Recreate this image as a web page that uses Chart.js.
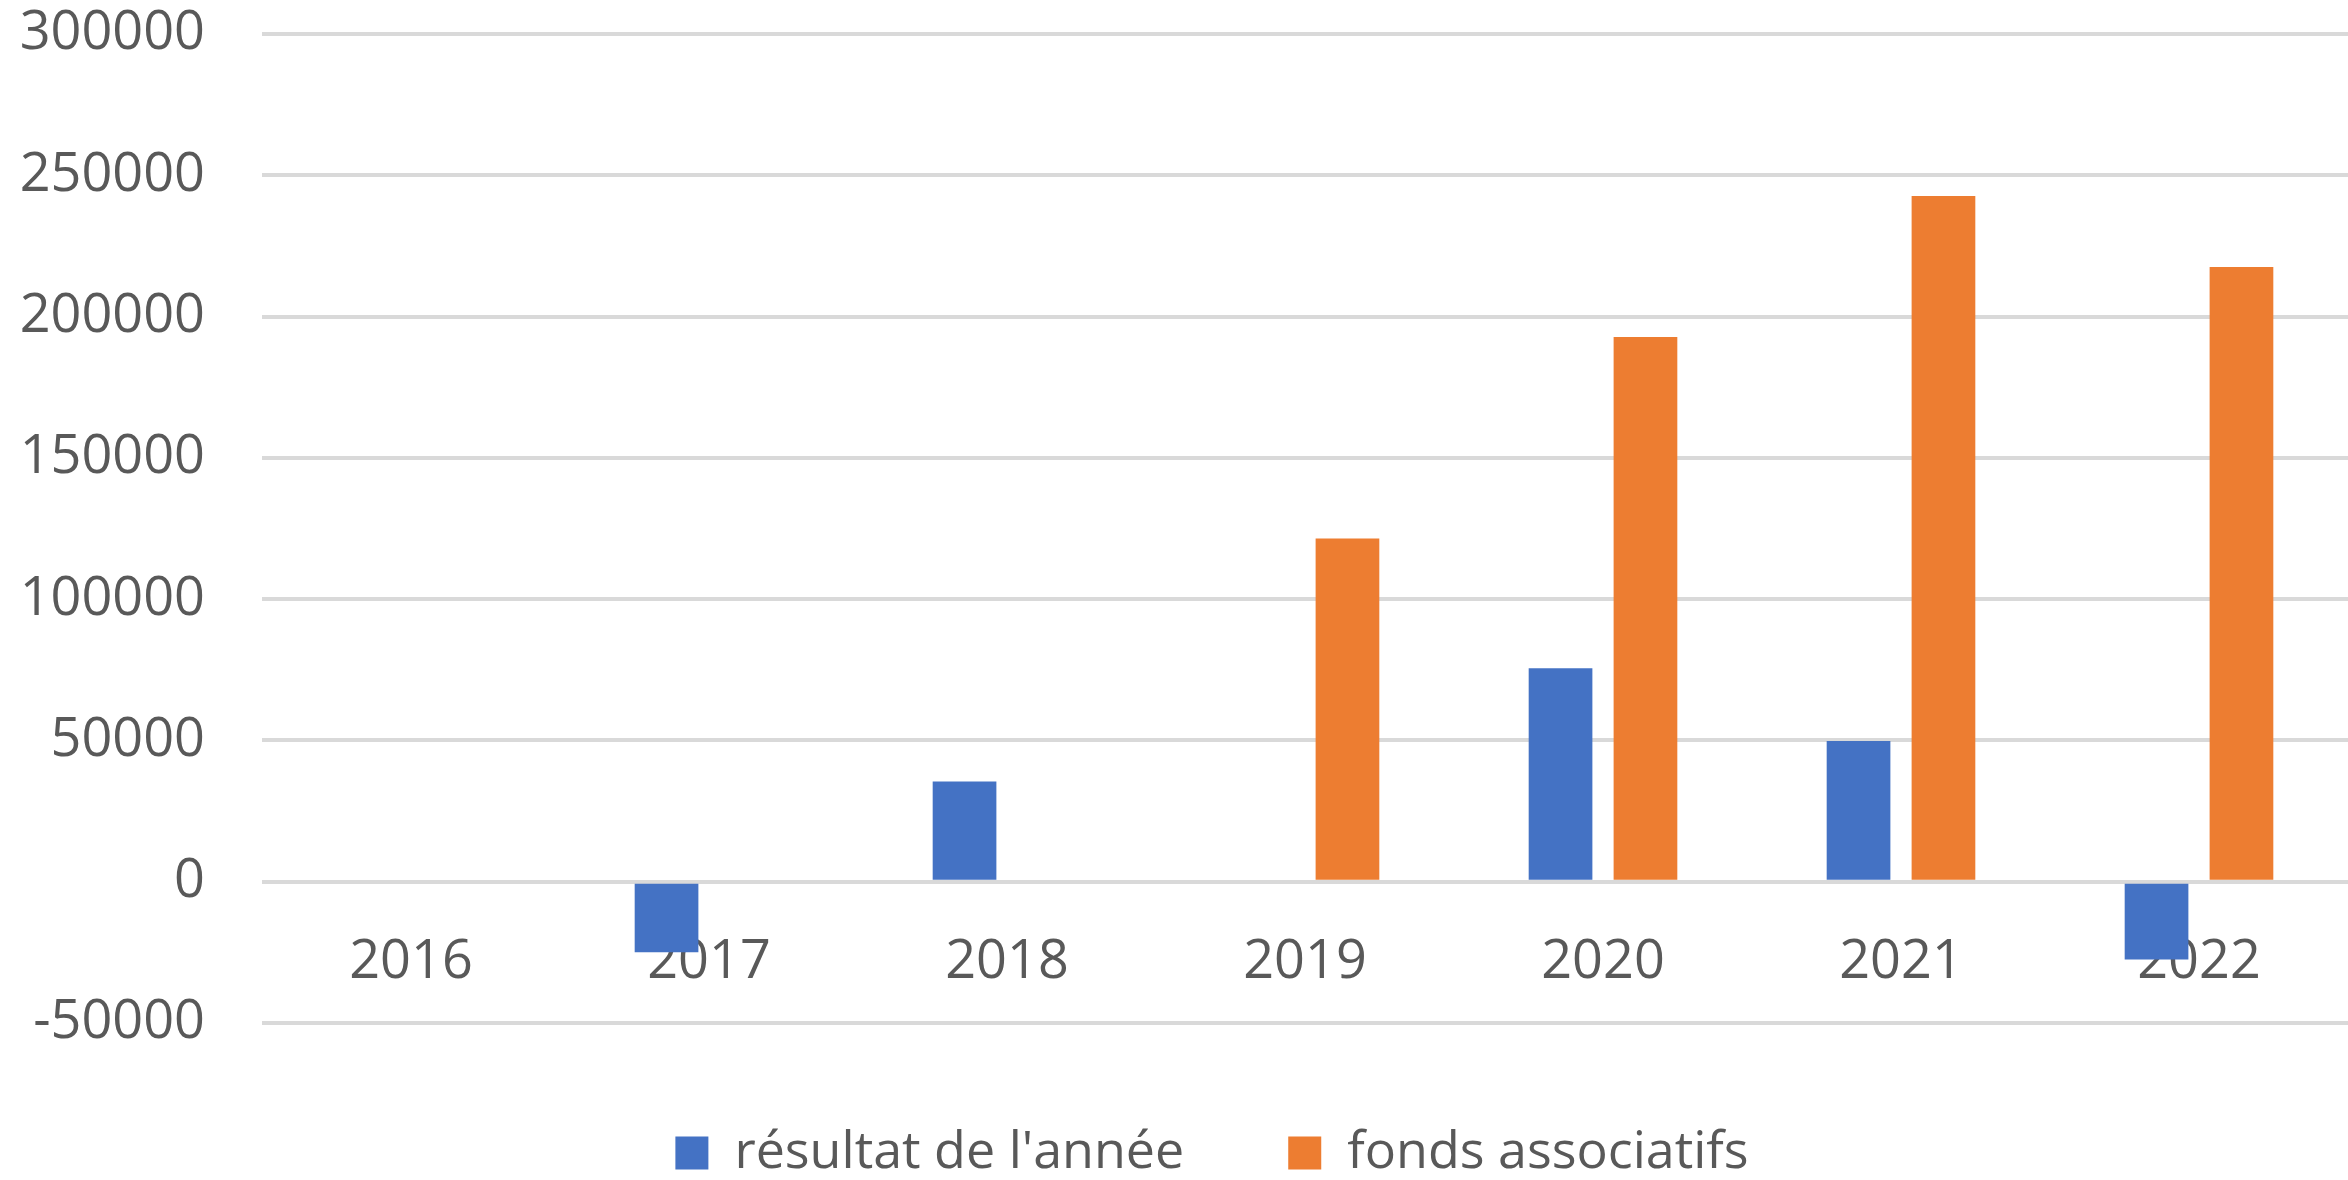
<!DOCTYPE html>
<html>
<head>
<meta charset="utf-8">
<script src="https://cdn.jsdelivr.net/npm/chart.js@4.4.1/dist/chart.umd.min.js"></script>
<style>
  html, body { margin: 0; padding: 0; background: #ffffff; }
  #wrap { width: 2348px; height: 1180px; }
</style>
</head>
<body>
<div id="wrap"><canvas id="chart" width="2348" height="1180"></canvas></div>
<script>
const years = ['2016', '2017', '2018', '2019', '2020', '2021', '2022'];
const resultatAnnee = [null, -25000, 35500, null, 75500, 49800, -27500];
const fondsAssociatifs = [null, null, null, 121500, 192800, 242700, 217500];
const yTicks = [-50000, 0, 50000, 100000, 150000, 200000, 250000, 300000];

const textColor = '#595959';
const font = { family: "'Open Sans', sans-serif", size: 54 };
const legendFont = { family: "'Open Sans', sans-serif", size: 52 };

// the legend in the reference sits a little right of the canvas centre
const shiftLegend = {
  id: 'shiftLegend',
  afterLayout(chart) {
    chart.legend.left += 38;
    chart.legend.right += 38;
  }
};

const ctx = document.getElementById('chart').getContext('2d');
new Chart(ctx, {
  type: 'bar',
  data: {
    labels: years,
    datasets: [
      {
        label: "résultat de l'année",
        data: resultatAnnee,
        backgroundColor: '#4472c4',
        categoryPercentage: 0.57,
        barPercentage: 0.75
      },
      {
        label: 'fonds associatifs',
        data: fondsAssociatifs,
        backgroundColor: '#ed7d31',
        categoryPercentage: 0.57,
        barPercentage: 0.75
      }
    ]
  },
  plugins: [shiftLegend],
  options: {
    responsive: false,
    animation: false,
    layout: { padding: { top: 34, left: 0, right: 0, bottom: -9 } },
    plugins: {
      tooltip: { enabled: false },
      legend: {
        position: 'bottom',
        labels: {
          color: textColor,
          font: legendFont,
          boxWidth: 33,
          boxHeight: 33,
          padding: 104
        }
      }
    },
    scales: {
      x: {
        position: { y: 0 },
        afterFit: (scale) => {
          scale.height = 0;
          scale.paddingTop = 0;
          scale.paddingBottom = 0;
        },
        grid: { display: false, drawTicks: false },
        border: { display: false },
        ticks: { color: textColor, font: font, padding: 48 }
      },
      y: {
        min: yTicks[0],
        max: yTicks[yTicks.length - 1],
        afterFit: (scale) => {
          scale.width = 262;
          scale.paddingTop = 0;
          scale.paddingBottom = 0;
        },
        afterBuildTicks: (scale) => { scale.ticks = yTicks.map(v => ({ value: v })); },
        grid: { color: '#d9d9d9', lineWidth: 4, drawTicks: false },
        border: { display: false },
        ticks: {
          color: textColor,
          font: font,
          padding: 57,
          callback: (v) => String(v)
        }
      }
    }
  }
});
</script>
</body>
</html>
